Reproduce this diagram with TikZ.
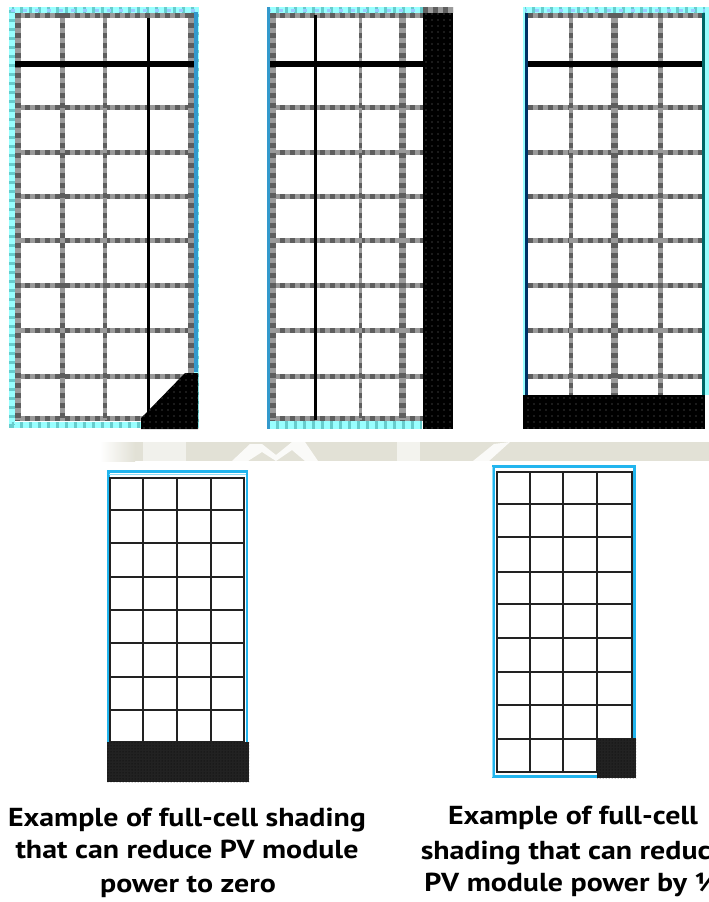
\documentclass[tikz,border=0pt]{standalone}
\usepackage{fontspec}
\setmainfont{PT Sans}
\usetikzlibrary{patterns.meta}
\definecolor{lg}{HTML}{9A9A9A}
\definecolor{dg}{HTML}{5E5E5E}
\definecolor{cyA}{HTML}{99FFFF}
\definecolor{cyB}{HTML}{99CCFF}
\definecolor{cyC}{HTML}{66CCCC}
\definecolor{blA}{HTML}{3399CC}
\definecolor{navyB}{HTML}{003366}
\definecolor{tealD}{HTML}{006666}
\definecolor{sky}{HTML}{22B5EE}
\definecolor{skyL}{HTML}{8FDDF8}
\definecolor{beige}{HTML}{E2E1D6}
\definecolor{cellk}{HTML}{222222}
\newcommand{\captxt}[1]{\scalebox{1.15}[1]{#1}}
\tikzset{
  gline/.style={draw=lg, line width=#1, postaction={draw=dg, line width=#1, dash pattern=on 5pt off 5pt}},
  gline/.default=5pt,
  kline/.style={draw=black, line width=#1},
  kline/.default=3pt,
  cyborder/.style={draw=cyA, line width=#1, postaction={draw=cyC, line width=#1, dash pattern=on 3pt off 6pt}},
  cyborder/.default=6pt,
  shadefill/.style={fill=black, postaction={pattern={Dots[distance=6pt,radius=0.8pt]}, pattern color=dg!60!black}},
  shadefilltwo/.style={fill=cellk, postaction={pattern={Dots[distance=3pt,radius=0.5pt]}, pattern color=black}},
  cellline/.style={draw=cellk, line width=#1},
  cellline/.default=2pt,
  skyb/.style={draw=sky, line width=#1},
  skyb/.default=2.5pt,
  captext/.style={font=\bfseries\fontsize{26}{30}\selectfont, anchor=base, inner sep=0pt}
}
\begin{document}
\begin{tikzpicture}[x=1pt,y=-1pt]
\useasboundingbox (0,0) rectangle (709,902);
\clip (0,0) rectangle (709,902);
\fill[white] (0,0) rectangle (709,902);

% ---------- panel 1 ----------
\draw[cyborder] (11.5,10) rectangle (196,425);
\draw[cyB, line width=3pt, dash pattern=on 4pt off 8pt] (11,10) -- (196,10);
\draw[blA, line width=4pt] (196,12) -- (196,372);
\foreach \yy in {15.5,107,152,196,240,285,330,376,418}
  \draw[gline] (15,\yy) -- (194,\yy);
\draw[gline=6pt] (18,13) -- (18,420);
\draw[gline] (62.5,13) -- (62.5,420);
\draw[gline=4pt] (105,13) -- (105,420);
\draw[gline=6pt] (191,13) -- (191,420);
\draw[kline=3pt] (148.5,18) -- (148.5,420);
\draw[kline=6pt] (15,63.5) -- (194,63.5);
\fill[shadefill] (141,429) -- (141,418) -- (147,412) -- (185,373) -- (198,373) -- (198,429) -- cycle;

% ---------- panel 2 ----------
\draw[cyborder] (267,10) -- (423,10);
\draw[cyB, line width=3pt, dash pattern=on 4pt off 8pt] (267,10) -- (423,10);
\draw[cyborder=8pt] (267,425) -- (422,425);
\draw[blA, line width=3.5pt] (268.5,7) -- (268.5,429);
\foreach \yy in {15.5,107,152,196,240,285,330,376,418}
  \draw[gline] (270,\yy) -- (423,\yy);
\draw[gline=6pt] (273,13) -- (273,420);
\draw[gline=3pt] (360,13) -- (360,420);
\draw[gline=7pt] (402.5,13) -- (402.5,420);
\draw[kline=3pt] (315.5,15) -- (315.5,420);
\draw[kline=6pt] (270,63.5) -- (423,63.5);
\draw[gline=6pt] (423,10) -- (453,10);
\fill[shadefill] (423,13) rectangle (453,429);

% ---------- panel 3 ----------
\draw[cyborder] (523,10) -- (709,10);
\draw[cyB, line width=3pt, dash pattern=on 4pt off 8pt] (523,10) -- (709,10);
\draw[cyA, line width=2pt] (524,7) -- (524,395);
\draw[navyB, line width=3pt] (526.5,13) -- (526.5,395);
\draw[tealD, line width=3pt] (703.5,13) -- (703.5,395);
\draw[cyA, line width=4pt] (707,7) -- (707,395);
\foreach \yy in {15.5,107,152,196,240,285,330,376}
  \draw[gline] (528,\yy) -- (702,\yy);
\draw[gline=4pt] (571,13) -- (571,395);
\draw[gline=7pt] (614,13) -- (614,395);
\draw[gline=5pt] (660.5,13) -- (660.5,395);
\draw[kline=6pt] (528,63.5) -- (702,63.5);
\fill[shadefill] (523,395) rectangle (705,429);

% ---------- watermark band ----------
\shade[left color=white, right color=beige] (100,442) rectangle (135,461);
\fill[beige] (135,442) rectangle (709,461);
\fill[white, opacity=0.55] (143,442) rectangle (186,461);
\fill[white, opacity=0.85] (232,461) -- (250,444) -- (262,444) -- (276,455) -- (292,442) -- (305,442) -- (318,461) -- (305,461) -- (292,450) -- (276,461) -- (262,452) -- (248,461) -- cycle;
\fill[white, opacity=0.6] (397,442) rectangle (420,461);
\fill[white, opacity=0.85] (473,461) -- (494,444) -- (510,442) -- (489,461) -- cycle;

% ---------- panel 4 ----------
\draw[skyb] (108.5,742) -- (108.5,471.5) -- (247,471.5) -- (247,742);
\draw[skyL, line width=1.5pt] (109,474.5) -- (246,474.5);
\draw[cellline] (110,478) rectangle (244,742);
\foreach \xx in {143,177,211}
  \draw[cellline] (\xx,478) -- (\xx,742);
\foreach \yy in {510,543,577,610,643,677,710}
  \draw[cellline] (110,\yy) -- (244,\yy);
\fill[shadefilltwo] (107,742) rectangle (249,782);

% ---------- panel 5 ----------
\draw[skyb=3pt] (597,776.5) -- (493.5,776.5) -- (493.5,466.5) -- (634.5,466.5) -- (634.5,738);
\draw[skyL, line width=1pt] (492,467) -- (492,777);
\draw[cellline] (497,472) rectangle (632,772);
\foreach \xx in {530,563,597}
  \draw[cellline] (\xx,472) -- (\xx,772);
\foreach \yy in {504,537,638,672,705}
  \draw[cellline] (497,\yy) -- (632,\yy);
\foreach \yy in {572,604,739}
  \draw[cellline=2.8pt] (497,\yy) -- (632,\yy);
\fill[shadefilltwo] (597,738) rectangle (636,778);

% ---------- captions ----------
\node[captext] (la) at (187,826) {\captxt{Example of full-cell shading}};
\node[captext] (lb) at (187,858) {\captxt{that can reduce PV module}};
\node[captext] (lc) at (188,892) {\captxt{power to zero}};
\node[captext] (ra) at (573,824) {\captxt{Example of full-cell}};
\node[captext] (rb) at (573,859) {\captxt{shading that can reduce}};
\node[captext] (rc) at (573,891) {\captxt{PV module power by ½}};
\end{tikzpicture}
\end{document}
